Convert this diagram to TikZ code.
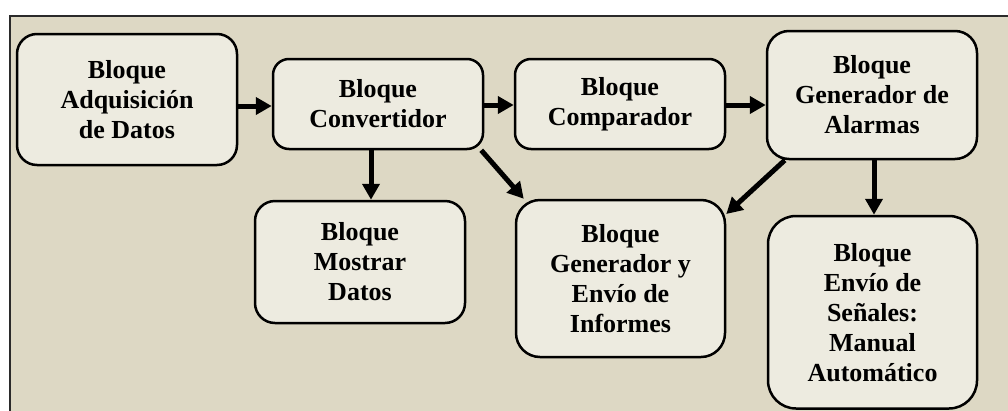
\documentclass[tikz,border=0pt]{standalone}
\usepackage{fontspec}
\setmainfont{Liberation Serif}
\usetikzlibrary{arrows.meta}
\definecolor{bgtan}{HTML}{DDD8C4}
\definecolor{boxfill}{HTML}{EDEBE0}
\definecolor{framecol}{HTML}{2A2A2A}
\begin{document}
\begin{tikzpicture}[x=1pt,y=-1pt,
  blk/.style={draw=black,line width=2.5pt,fill=boxfill,rounded corners=#1,align=center,inner sep=0pt,
    font=\bfseries\fontsize{26}{30}\selectfont},
  blk/.default=18pt,
  arr/.style={line width=5pt,-{Triangle[length=16pt,width=17pt]}}]
\useasboundingbox (0,0) rectangle (1008,410);
\fill[white] (0,0) rectangle (1008,410);
\begin{scope}
  \clip (0,0) rectangle (1008,410);
  \fill[bgtan] (10,16) rectangle (1020,420);
  \draw[framecol,line width=2.5pt] (10,420) -- (10,16) -- (1020,16);

  \node[blk=20pt, minimum width=220pt, minimum height=131pt] (adq) at (127,99.5) {Bloque\\Adquisición\\de Datos};
  \node[blk=16pt, minimum width=210pt, minimum height=90pt] (conv) at (378,104) {Bloque\\Convertidor};
  \node[blk=16pt, minimum width=210pt, minimum height=90pt] (comp) at (620,104) {Bloque\\Comparador};
  \node[blk=22pt, minimum width=210pt, minimum height=128pt] (alarm) at (872,95) {Bloque\\Generador de\\Alarmas};
  \node[blk=20pt, minimum width=210pt, minimum height=122pt] (most) at (360,262) {Bloque\\Mostrar\\Datos};
  \node[blk=24pt, minimum width=209pt, minimum height=157pt] (info) at (620.5,278.5) {Bloque\\Generador y\\Envío de\\Informes};
  \node[blk=28pt, minimum width=209pt, minimum height=192.5pt] (envio) at (872.5,312.25) {Bloque\\Envío de\\Señales:\\Manual\\Automático};

  \draw[arr] (adq.east |- 0,106) -- (conv.west |- 0,106);
  \draw[arr] (conv.east |- 0,105) -- (comp.west |- 0,105);
  \draw[arr] (comp.east |- 0,105) -- (alarm.west |- 0,105);
  \draw[arr] (371,0 |- conv.south) -- (371,0 |- most.north);
  \draw[arr] ([xshift=-3pt]conv.south east) -- ([xshift=9pt]info.north west);
  \draw[arr] ([xshift=19pt]alarm.south west) -- (info.east |- 0,214);
  \draw[arr] (874,0 |- alarm.south) -- (874,0 |- envio.north);
\end{scope}
\end{tikzpicture}
\end{document}
